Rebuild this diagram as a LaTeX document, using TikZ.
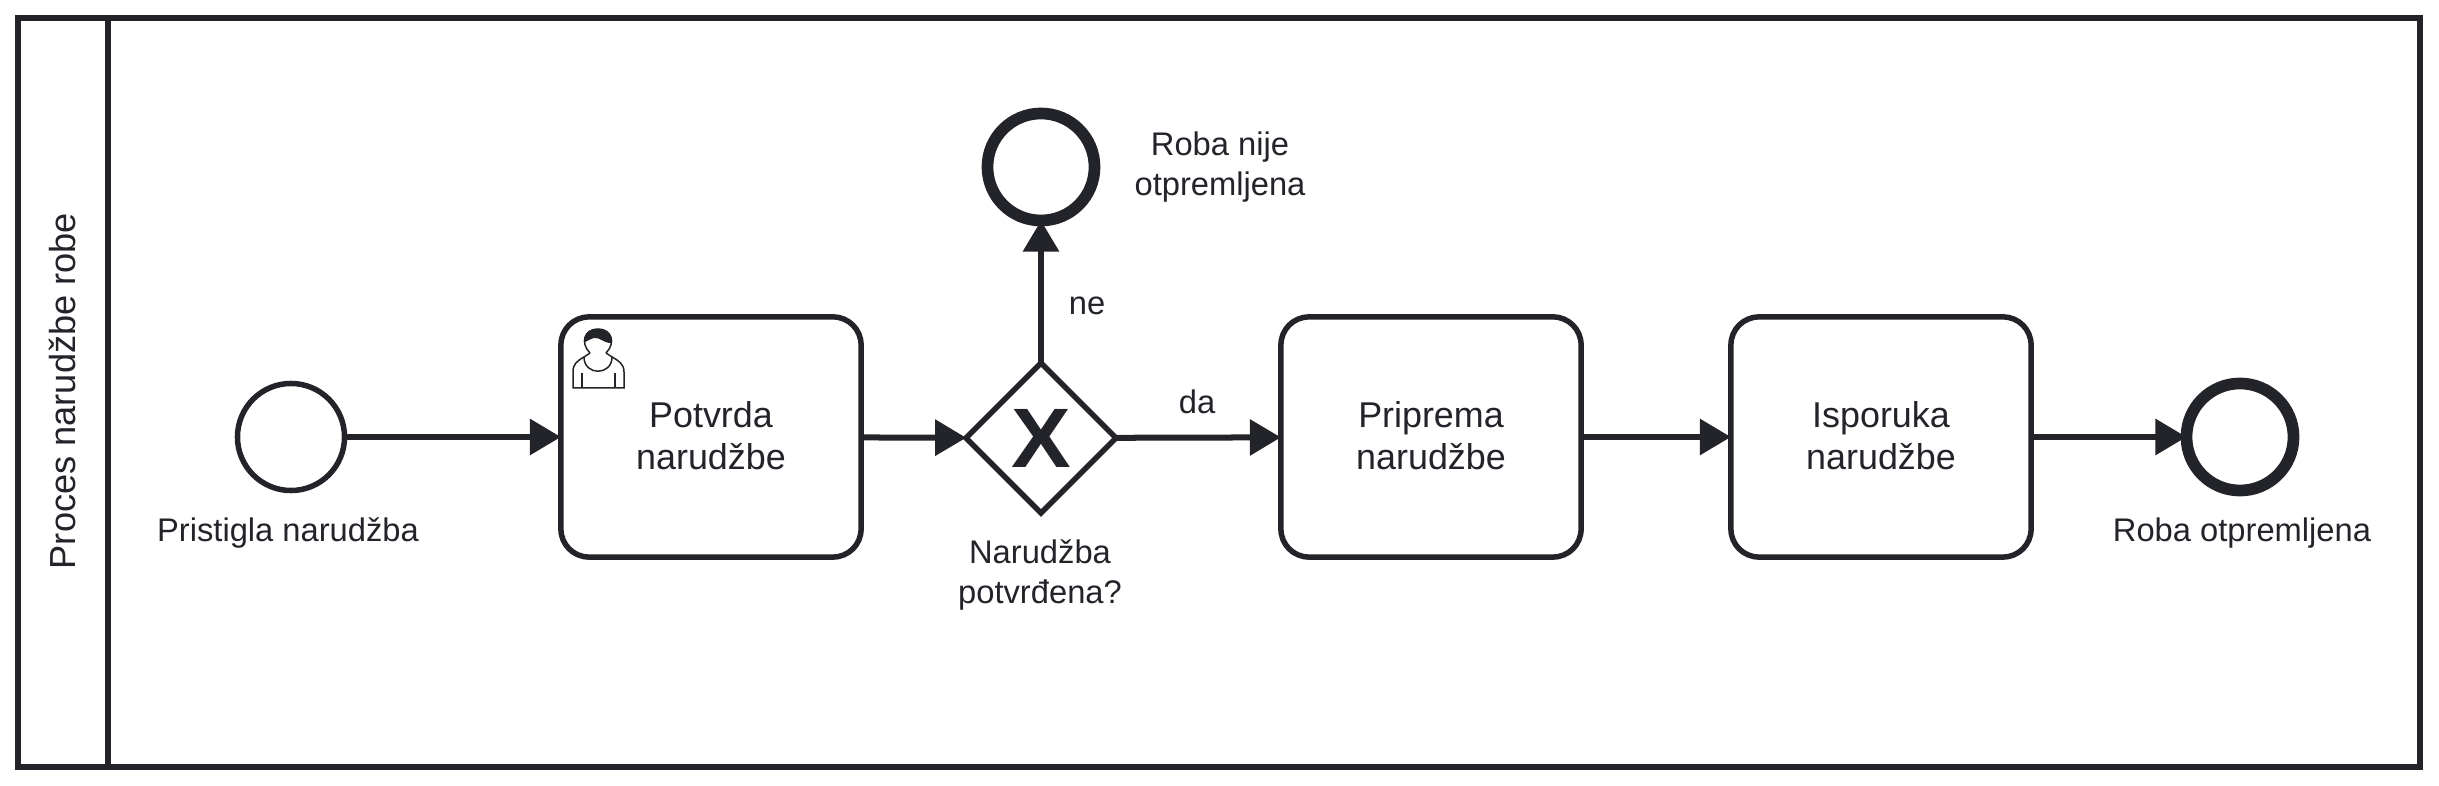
\documentclass[tikz,border=0pt]{standalone}
\usepackage{fontspec}
\setmainfont{Liberation Sans}
\usetikzlibrary{arrows.meta,shapes.geometric}
\definecolor{bpmnink}{HTML}{22242A}
\tikzset{
	flow/.style={draw=bpmnink, line width=0.06cm, -{Triangle[length=0.31cm,width=0.35cm]}},
	taskbox/.style={draw=bpmnink, line width=0.055cm, rounded corners=0.28cm, minimum width=3cm, minimum height=2.4cm, inner sep=0pt, outer sep=0pt},
	tasktext/.style={align=center, inner sep=0pt, yshift=0.015cm, text=bpmnink, font=\fontsize{10.2}{11.9}\selectfont},
	startevent/.style={circle, draw=bpmnink, line width=0.055cm, minimum size=1.07cm, inner sep=0pt, outer sep=0pt},
	endevent/.style={circle, draw=bpmnink, line width=0.117cm, minimum size=1.07cm, inner sep=0pt, outer sep=0pt},
	gateway/.style={diamond, draw=bpmnink, line width=0.055cm, minimum size=1.5cm, inner sep=0pt, outer sep=0pt, text=bpmnink, font=\fontsize{24}{24}\selectfont\bfseries},
	caption/.style={align=center, inner sep=0pt, text=bpmnink, font=\fontsize{9.3}{11.34}\selectfont}
}
\begin{document}
\begin{tikzpicture}[x=0.01cm, y=-0.01cm]
			%%%%% START %%%%%
			\useasboundingbox (0, 0) rectangle (2439, 786);
			
			\draw[line width=0.06cm, color=bpmnink] (18, 18) rectangle (2420, 767);
			\draw[line width=0.06cm, color=bpmnink] (108, 18) -- (108, 767);
			\node[caption, rotate=90, font=\fontsize{10.3}{11.9}\selectfont] (lanename) at (62, 391) {Proces narudžbe robe};
			
			\node[startevent] (pristigla) at (291, 437) {};
			\node[taskbox, label={[tasktext]center:Potvrda\\narudžbe}] (potvrda) at (711, 437) {};
			\node[gateway] (odluka) at (1041, 438) {\scalebox{1.06}[1]{X}};
			\node[endevent] (nije) at (1041, 167) {};
			\node[taskbox, label={[tasktext]center:Priprema\\narudžbe}] (priprema) at (1431, 437) {};
			\node[taskbox, label={[tasktext]center:Isporuka\\narudžbe}] (isporuka) at (1881, 437) {};
			\node[endevent] (otpremljena) at (2240, 437) {};
			
			\draw[flow] (pristigla) -- (potvrda);
			\draw[flow] (potvrda) -- (odluka);
			\draw[flow] (odluka) -- (priprema);
			\draw[flow] (odluka) -- (nije);
			\draw[flow] (priprema) -- (isporuka);
			\draw[flow] (isporuka) -- (otpremljena);
			
			\node[caption] (pristiglatxt) at (288, 533) {Pristigla narudžba};
			\node[caption] (odlukatxt) at (1040, 575) {Narudžba\\potvrđena?};
			\node[caption] (nijetxt) at (1220, 167) {Roba nije\\otpremljena};
			\node[caption] (otpremljenatxt) at (2242, 533) {Roba otpremljena};
			\node[caption] (netxt) at (1087, 306) {ne};
			\node[caption] (datxt) at (1197, 402) {da};
			
			% korisnik u zadatku
			\draw[line width=0.015cm, color=bpmnink] (590, 353) .. controls (580, 343) and (584, 329) .. (598, 329) .. controls (612, 329) and (616, 343) .. (606, 353);
			\draw[line width=0.015cm, color=bpmnink] (590, 353) -- (584, 357) .. controls (584, 376) and (612, 376) .. (612, 357) -- (606, 353);
			\draw[line width=0.015cm, color=bpmnink] (584, 357) .. controls (577, 361) and (573, 364) .. (573, 372) -- (573, 388) -- (624, 388) -- (624, 372) .. controls (624, 364) and (619, 361) .. (612, 357);
			\draw[line width=0.015cm, color=bpmnink] (582, 373) -- (582, 388);
			\draw[line width=0.015cm, color=bpmnink] (615, 373) -- (615, 388);
			\fill[bpmnink] (585, 342) .. controls (583, 333) and (590, 329) .. (598, 329) .. controls (606, 329) and (612, 334) .. (611, 343) .. controls (603, 343) and (600, 337) .. (594, 338) .. controls (590, 339) and (588, 341) .. (585, 342);
			%%%%% END %%%%%
		\end{tikzpicture}
\end{document}
